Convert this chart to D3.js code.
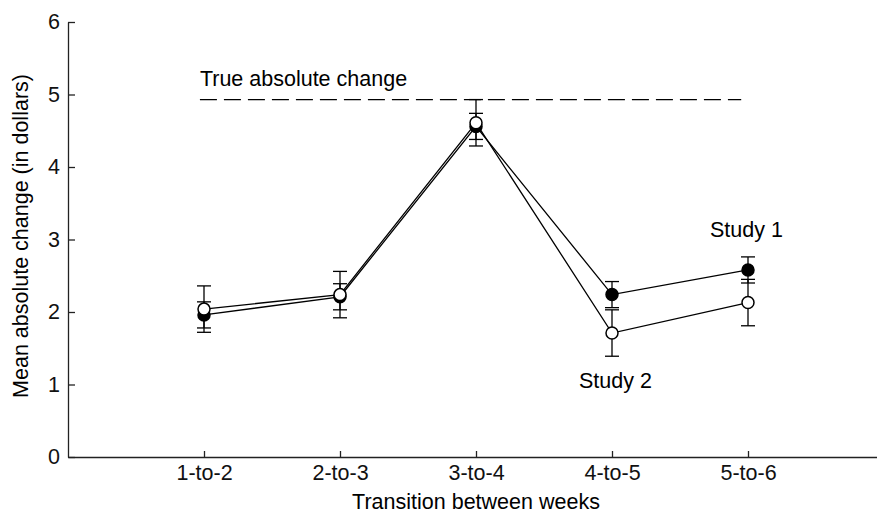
<!DOCTYPE html>
<html>
<head>
<meta charset="utf-8">
<script src="https://cdn.jsdelivr.net/npm/d3@7"></script>
<style>
  body { margin: 0; background: #fff; }
  svg { display: block; font-family: "Liberation Sans", Arial, sans-serif; }
</style>
</head>
<body>
<div id="chart"></div>
<script>
document.addEventListener("DOMContentLoaded", function() {
    const width = 877;
    const height = 513;
    const fontSize = '21.5px';

    // data
    const transitions = ['1-to-2', '2-to-3', '3-to-4', '4-to-5', '5-to-6'];
    const study1 = [1.96, 2.21, 4.56, 2.24, 2.58];
    const study1Err = [0.18, 0.18, 0.18, 0.18, 0.18];
    const study2 = [2.04, 2.24, 4.61, 1.71, 2.13];
    const study2Err = [0.32, 0.32, 0.32, 0.32, 0.32];
    const trueChange = 4.93;
    const yTicks = [0, 1, 2, 3, 4, 5, 6];

    const svg = d3.select('#chart')
        .append('svg')
        .attr('width', width)
        .attr('height', height);

    const x = d3.scaleLinear()
        .domain([0, 6])
        .range([68, 884]);

    const y = d3.scaleLinear()
        .domain([0, 6])
        .range([457, 22]);

    // axes
    const xAxis = svg.append('g')
        .attr('transform', `translate(0,${y(0)})`)
        .call(d3.axisBottom(x)
            .tickValues(transitions.map((d, i) => i + 1))
            .tickFormat((d) => transitions[d - 1])
            .tickSizeInner(-6)
            .tickSizeOuter(0)
            .tickPadding(8));

    const yAxis = svg.append('g')
        .attr('transform', `translate(${x(0)},0)`)
        .call(d3.axisLeft(y)
            .tickValues(yTicks)
            .tickFormat(d3.format('d'))
            .tickSizeInner(-7)
            .tickSizeOuter(0)
            .tickPadding(8));

    [xAxis, yAxis].forEach((g) => {
        g.selectAll('path, line').attr('stroke', '#222').attr('stroke-width', 1.3);
        g.selectAll('text')
            .attr('fill', '#111')
            .style('font-size', fontSize)
            .style('font-family', '"Liberation Sans", Arial, sans-serif');
    });

    svg.append('text')
        .attr('x', 476)
        .attr('y', 509)
        .attr('text-anchor', 'middle')
        .style('font-size', fontSize)
        .text('Transition between weeks');

    svg.append('text')
        .attr('transform', 'translate(28,236) rotate(-90)')
        .attr('text-anchor', 'middle')
        .style('font-size', fontSize)
        .text('Mean absolute change (in dollars)');

    // true absolute change reference
    svg.append('line')
        .attr('x1', x(0.97))
        .attr('x2', x(4.95))
        .attr('y1', y(trueChange))
        .attr('y2', y(trueChange))
        .attr('stroke', '#000')
        .attr('stroke-width', 1.3)
        .attr('stroke-dasharray', '17,7');

    svg.append('text')
        .attr('x', x(0.97))
        .attr('y', y(trueChange) - 14)
        .style('font-size', fontSize)
        .text('True absolute change');

    const line = d3.line()
        .x((d, i) => x(i + 1))
        .y((d) => y(d));

    const series = [
        { values: study1, err: study1Err, fill: '#000' },
        { values: study2, err: study2Err, fill: '#fff' },
    ];

    // error bars first, then lines, then markers
    series.forEach((s) => {
        const g = svg.append('g');
        s.values.forEach((v, i) => {
            const cx = x(i + 1);
            g.append('line')
                .attr('x1', cx).attr('x2', cx)
                .attr('y1', y(v - s.err[i])).attr('y2', y(v + s.err[i]))
                .attr('stroke', '#000').attr('stroke-width', 1.3);
            [v - s.err[i], v + s.err[i]].forEach((e) => {
                g.append('line')
                    .attr('x1', cx - 7).attr('x2', cx + 7)
                    .attr('y1', y(e)).attr('y2', y(e))
                    .attr('stroke', '#000').attr('stroke-width', 1.3);
            });
        });
    });

    series.forEach((s) => {
        svg.append('path')
            .datum(s.values)
            .attr('fill', 'none')
            .attr('stroke', '#000')
            .attr('stroke-width', 1.3)
            .attr('d', line);
    });

    series.forEach((s) => {
        svg.append('g')
            .selectAll('circle')
            .data(s.values)
            .enter()
            .append('circle')
            .attr('cx', (d, i) => x(i + 1))
            .attr('cy', (d) => y(d))
            .attr('r', 6)
            .attr('fill', s.fill)
            .attr('stroke', '#000')
            .attr('stroke-width', 1.5);
    });

    // series labels
    svg.append('text')
        .attr('x', x(5) - 38)
        .attr('y', y(study1[4]) - 33)
        .style('font-size', fontSize)
        .text('Study 1');

    svg.append('text')
        .attr('x', x(4) - 33)
        .attr('y', y(study2[3]) + 55)
        .style('font-size', fontSize)
        .text('Study 2');
});
</script>
</body>
</html>
